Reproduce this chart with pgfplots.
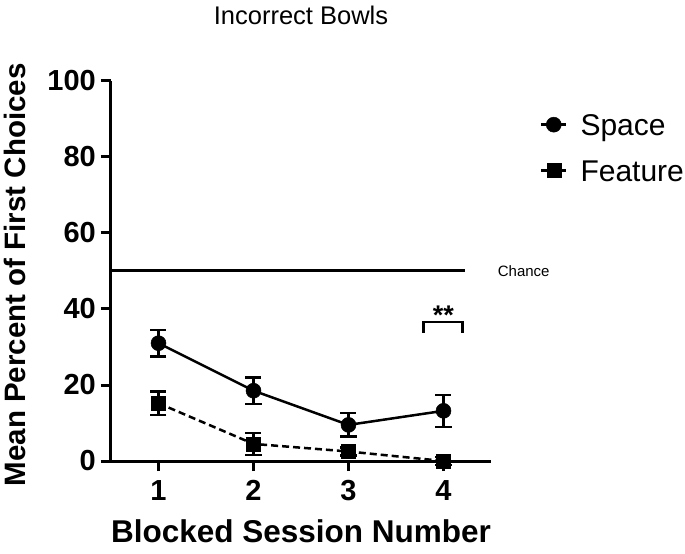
\documentclass[border=0pt]{standalone}
\usepackage{fontspec}
\setmainfont{Liberation Sans}
\usepackage{pgfplots}
\pgfplotsset{compat=1.18}

\begin{document}
\begin{tikzpicture}
\path[use as bounding box] (-111bp,-93bp) rectangle (574bp,461bp);
\begin{axis}[
  width=380bp, height=380bp, scale only axis,
  xmin=0.5, xmax=4.5, ymin=0, ymax=100,
  axis x line=bottom, axis y line=left,
  axis line style={-, line width=3bp},
  xtick={1,2,3,4}, ytick={0,20,40,60,80,100},
  tick align=outside, major tick length=10bp,
  tick style={line width=3bp, black},
  /pgf/number format/assume math mode=true,
  ticklabel style={font=\fontsize{29bp}{32bp}\selectfont\bfseries},
  yticklabel style={inner sep=5bp},
  xticklabel style={inner sep=2bp, yshift=-7bp},
  clip=false,
  every axis title shift=0pt,
  title={Incorrect Bowls},
  title style={at={([yshift=56.5bp]axis description cs:0.5,1)}, anchor=base,
    yshift=0pt, inner sep=0pt, font=\fontsize{25.5bp}{28bp}\selectfont},
  xlabel={Blocked Session Number},
  xlabel style={at={([yshift=-81bp]axis description cs:0.5,0)}, anchor=base,
    inner sep=0pt, font=\fontsize{31.5bp}{34bp}\selectfont\bfseries},
  ylabel={Mean Percent of First Choices},
  ylabel style={at={([xshift=-85bp]axis description cs:0,0.49)}, anchor=base,
    rotate=0, inner sep=0pt, font=\fontsize{29.5bp}{33bp}\selectfont\bfseries},
  legend style={at={(axis description cs:1.129,0.914)}, anchor=north west,
    draw=none, fill=none, inner sep=0pt, outer sep=0pt,
    row sep=24bp, column sep=13bp,
    nodes={inner sep=0pt, text height=22bp, text depth=0bp},
    font=\fontsize{30bp}{34bp}\selectfont},
  legend cell align=left,
  legend image code/.code={
    \draw[mark repeat=2, mark phase=2, #1, solid, line width=2.5bp]
      plot coordinates {(0bp,0bp) (12.5bp,0bp) (25bp,0bp)};},
]
% chance level
\addplot[black, line width=3bp, forget plot] coordinates {(0.5,50) (4.23,50)};
\node[anchor=west, inner sep=0pt, font=\fontsize{15bp}{18bp}\selectfont]
  at (axis cs:4.57,50) {Chance};

% Space
\addplot[black, line width=2.5bp, mark=*, mark size=7.5bp,
  mark options={solid, line width=0.5bp},
  error bars/.cd, y dir=both, y explicit,
  error bar style={line width=2.5bp, solid},
  error mark options={rotate=90, mark size=8bp, line width=2.5bp}]
  coordinates {
    (1,31.0) +- (0,3.5)
    (2,18.5) +- (0,3.5)
    (3,9.5)  +- (0,3.1)
    (4,13.2) +- (0,4.2)
  };
\addlegendentry{Space}

% Feature
\addplot[black, line width=2.5bp, dash pattern=on 7bp off 4bp,
  mark=square*, mark size=7bp,
  mark options={solid, line width=0.5bp},
  error bars/.cd, y dir=both, y explicit,
  error bar style={line width=2.5bp, solid},
  error mark options={rotate=90, mark size=8bp, line width=2.5bp}]
  coordinates {
    (1,15.2) +- (0,3.1)
    (2,4.5)  +- (0,2.9)
    (3,2.5)  +- (0,1.0)
    (4,0.0)  +- (0,1.0)
  };
\addlegendentry{Feature}

% significance bracket
\draw[line width=2.5bp] (axis cs:3.79,33.8) -- (axis cs:3.79,36.6)
  -- (axis cs:4.2,36.6) -- (axis cs:4.2,33.8);
\node[anchor=base, inner sep=0pt, font=\fontsize{27bp}{30bp}\selectfont\bfseries]
  at (axis cs:4,35.8) {**};
\end{axis}
\end{tikzpicture}
\end{document}
